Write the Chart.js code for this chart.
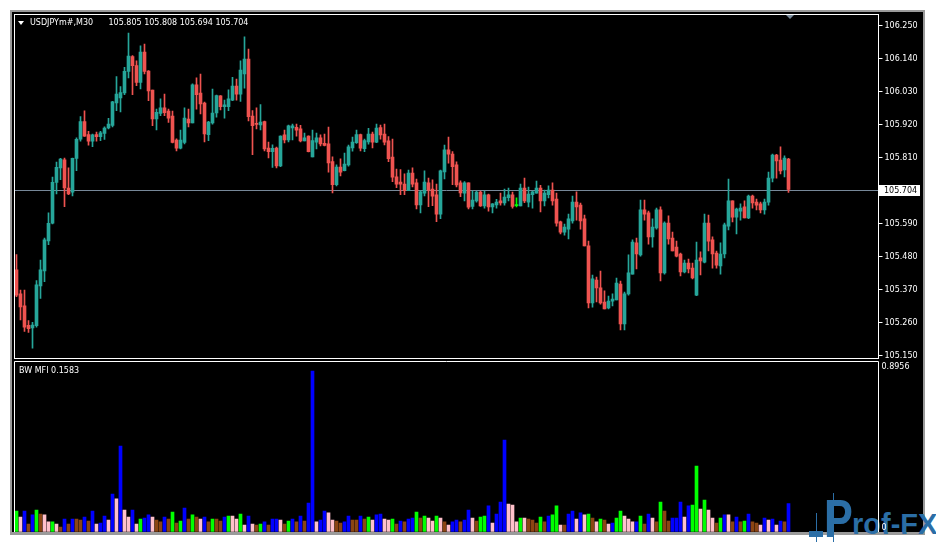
<!DOCTYPE html>
<html lang="en">
<head>
<meta charset="UTF-8">
<title>USDJPYm#,M30 - BW MFI</title>
<style>
    body {
        margin: 0;
        width: 936px;
        height: 543px;
        overflow: hidden;
        position: relative;
        background: #fff;
        font-family: "DejaVu Sans", sans-serif;
    }
    .frame {
        position: absolute;
        left: 10px;
        top: 10px;
        width: 911px;
        height: 520px;
        background: #000;
        border: 2px solid #9a9a9a;
        border-bottom-width: 3px;
    }
    canvas {
        position: absolute;
        left: 0;
    }
    #priceChart { top: 0; }
    #mfiChart { top: 350px; }
    .txt {
        position: absolute;
        color: #fff;
        font-size: 8px;
        line-height: 10px;
        white-space: pre;
    }
    .tri {
        position: absolute;
        left: 18px;
        top: 21px;
        width: 0;
        height: 0;
        border-left: 3px solid transparent;
        border-right: 3px solid transparent;
        border-top: 4px solid #fff;
    }
    .logo {
        position: absolute;
        font-family: "Liberation Sans", Arial, sans-serif;
        font-weight: bold;
        color: #2b6ea6;
        white-space: pre;
    }
    .logo-bar {
        position: absolute;
        background: #2b6ea6;
    }
</style>
</head>
<body>
    <div class="frame"></div>

    <div class="logo-bar" style="left:809px; top:531px; width:14px; height:6px;"></div>
    <div class="logo-bar" style="left:816px; top:513px; width:1px; height:29px;"></div>
    <div class="logo-bar" style="left:833px; top:493px; width:1px; height:49px;"></div>
    <div class="logo" style="left:824px; top:487px; font-size:54px; transform:scaleX(0.8); transform-origin:left top;">P</div>
    <div class="logo" style="left:852px; top:508px; font-size:29px;">rof-FX</div>

    <canvas id="priceChart" width="936" height="372"></canvas>
    <canvas id="mfiChart" width="936" height="193"></canvas>

    <div class="tri"></div>
    <div class="txt" style="left:30px; top:18px;">USDJPYm#,M30</div>
    <div class="txt" style="left:108.5px; top:18px;">105.805 105.808 105.694 105.704</div>
    <div class="txt" style="left:19px; top:366px;">BW MFI 0.1583</div>

    <script src="https://cdn.jsdelivr.net/npm/chart.js"></script>
    <script>
        // price axis labels (105.700 sits under the bid label)
        const priceTicks = [106.250, 106.140, 106.030, 105.920, 105.810, 105.590, 105.480, 105.370, 105.260, 105.150];
        const mfiTicks = [0, 0.8956];

        const opens = [
            105.436, 105.356, 105.316, 105.251, 105.243, 105.250, 105.383, 105.433, 105.533, 105.592,
            105.728, 105.776, 105.803, 105.709, 105.695, 105.808, 105.872, 105.930, 105.887, 105.865,
            105.887, 105.880, 105.891, 105.909, 105.918, 105.993, 106.009, 106.026, 106.098, 106.147,
            106.117, 106.061, 106.162, 106.099, 106.035, 105.939, 105.958, 105.976, 105.965, 105.949,
            105.869, 105.842, 105.861, 105.939, 105.926, 106.053, 106.025, 105.992, 105.887, 105.926,
            105.959, 106.016, 105.980, 105.980, 106.002, 106.049, 106.022, 106.089, 106.139, 105.949,
            105.923, 105.919, 105.930, 105.842, 105.830, 105.842, 105.783, 105.886, 105.869, 105.909,
            105.911, 105.906, 105.866, 105.882, 105.813, 105.862, 105.876, 105.858, 105.856, 105.797,
            105.720, 105.779, 105.767, 105.786, 105.843, 105.860, 105.887, 105.840, 105.863, 105.889,
            105.862, 105.910, 105.889, 105.866, 105.812, 105.746, 105.729, 105.722, 105.700, 105.759,
            105.726, 105.653, 105.692, 105.726, 105.705, 105.686, 105.622, 105.763, 105.836, 105.822,
            105.786, 105.726, 105.692, 105.726, 105.648, 105.666, 105.695, 105.649, 105.686, 105.646,
            105.653, 105.666, 105.659, 105.677, 105.686, 105.650, 105.649, 105.709, 105.662, 105.687,
            105.692, 105.709, 105.666, 105.687, 105.702, 105.672, 105.596, 105.562, 105.572, 105.599,
            105.662, 105.652, 105.606, 105.516, 105.326, 105.402, 105.376, 105.329, 105.309, 105.332,
            105.336, 105.389, 105.256, 105.356, 105.422, 105.526, 105.486, 105.636, 105.626, 105.546,
            105.576, 105.636, 105.426, 105.592, 105.542, 105.512, 105.489, 105.429, 105.459, 105.442,
            105.352, 105.476, 105.462, 105.592, 105.536, 105.492, 105.449, 105.489, 105.582, 105.666,
            105.612, 105.632, 105.646, 105.609, 105.682, 105.662, 105.656, 105.636, 105.662, 105.742,
            105.819, 105.802, 105.769, 105.805
        ];
        const highs = [
            105.487, 105.369, 105.369, 105.267, 105.261, 105.400, 105.469, 105.542, 105.626, 105.745,
            105.795, 105.808, 105.809, 105.776, 105.809, 105.876, 105.947, 105.966, 105.898, 105.889,
            105.895, 105.898, 105.913, 105.941, 105.998, 106.080, 106.047, 106.111, 106.225, 106.150,
            106.133, 106.183, 106.189, 106.100, 106.035, 105.972, 106.006, 106.022, 105.972, 105.965,
            105.873, 105.902, 105.976, 105.972, 106.056, 106.076, 106.089, 105.995, 105.931, 106.039,
            106.019, 106.017, 106.002, 106.036, 106.078, 106.072, 106.133, 106.213, 106.172, 105.967,
            105.976, 105.987, 105.932, 105.862, 105.853, 105.845, 105.883, 105.902, 105.919, 105.922,
            105.922, 105.918, 105.892, 105.883, 105.902, 105.892, 105.886, 105.889, 105.912, 105.813,
            105.786, 105.806, 105.825, 105.852, 105.879, 105.902, 105.889, 105.872, 105.908, 105.895,
            105.922, 105.919, 105.922, 105.880, 105.872, 105.772, 105.770, 105.756, 105.769, 105.776,
            105.739, 105.700, 105.766, 105.742, 105.736, 105.722, 105.769, 105.852, 105.879, 105.830,
            105.796, 105.733, 105.730, 105.726, 105.699, 105.699, 105.699, 105.699, 105.689, 105.657,
            105.671, 105.692, 105.705, 105.709, 105.695, 105.676, 105.722, 105.742, 105.712, 105.699,
            105.732, 105.718, 105.702, 105.716, 105.726, 105.692, 105.599, 105.589, 105.622, 105.682,
            105.696, 105.659, 105.619, 105.532, 105.419, 105.412, 105.432, 105.366, 105.349, 105.356,
            105.409, 105.399, 105.362, 105.486, 105.536, 105.542, 105.669, 105.669, 105.632, 105.606,
            105.642, 105.646, 105.596, 105.616, 105.562, 105.532, 105.492, 105.469, 105.472, 105.459,
            105.529, 105.496, 105.622, 105.619, 105.546, 105.499, 105.526, 105.592, 105.739, 105.666,
            105.642, 105.656, 105.666, 105.685, 105.685, 105.672, 105.662, 105.672, 105.762, 105.822,
            105.821, 105.846, 105.816, 105.808
        ];
        const lows = [
            105.347, 105.269, 105.231, 105.228, 105.175, 105.245, 105.341, 105.397, 105.520, 105.589,
            105.689, 105.737, 105.647, 105.687, 105.683, 105.767, 105.865, 105.881, 105.852, 105.847,
            105.865, 105.867, 105.871, 105.906, 105.913, 105.967, 105.963, 106.020, 106.076, 106.020,
            106.050, 106.039, 106.089, 106.000, 105.917, 105.903, 105.950, 105.950, 105.928, 105.859,
            105.833, 105.839, 105.856, 105.913, 105.926, 105.972, 105.956, 105.863, 105.867, 105.922,
            105.945, 105.969, 105.942, 105.967, 106.000, 106.002, 105.998, 106.042, 105.933, 105.820,
            105.906, 105.903, 105.833, 105.809, 105.778, 105.776, 105.780, 105.859, 105.863, 105.869,
            105.882, 105.863, 105.866, 105.829, 105.813, 105.839, 105.849, 105.849, 105.762, 105.693,
            105.716, 105.749, 105.766, 105.782, 105.832, 105.858, 105.833, 105.830, 105.855, 105.843,
            105.860, 105.872, 105.853, 105.797, 105.730, 105.710, 105.687, 105.687, 105.700, 105.713,
            105.639, 105.626, 105.683, 105.647, 105.650, 105.597, 105.607, 105.739, 105.792, 105.720,
            105.713, 105.680, 105.666, 105.639, 105.639, 105.662, 105.648, 105.642, 105.632, 105.626,
            105.642, 105.652, 105.652, 105.666, 105.642, 105.646, 105.649, 105.660, 105.646, 105.642,
            105.692, 105.629, 105.649, 105.676, 105.652, 105.582, 105.556, 105.552, 105.539, 105.592,
            105.602, 105.572, 105.516, 105.309, 105.312, 105.329, 105.322, 105.306, 105.306, 105.316,
            105.336, 105.236, 105.236, 105.352, 105.422, 105.439, 105.482, 105.602, 105.522, 105.512,
            105.572, 105.399, 105.422, 105.522, 105.499, 105.479, 105.416, 105.426, 105.426, 105.406,
            105.350, 105.419, 105.459, 105.499, 105.442, 105.442, 105.422, 105.476, 105.569, 105.596,
            105.556, 105.602, 105.609, 105.607, 105.642, 105.636, 105.626, 105.622, 105.652, 105.729,
            105.742, 105.756, 105.746, 105.694
        ];
        const closes = [
            105.352, 105.313, 105.245, 105.240, 105.252, 105.386, 105.436, 105.536, 105.591, 105.728,
            105.778, 105.805, 105.709, 105.689, 105.808, 105.871, 105.930, 105.882, 105.865, 105.886,
            105.880, 105.893, 105.909, 105.922, 105.996, 106.022, 106.027, 106.098, 106.149, 106.117,
            106.061, 106.162, 106.098, 106.033, 105.939, 105.961, 105.976, 105.960, 105.942, 105.861,
            105.842, 105.869, 105.942, 105.926, 106.053, 106.020, 105.989, 105.889, 105.929, 105.959,
            106.017, 105.980, 105.986, 106.006, 106.049, 106.022, 106.102, 106.139, 105.947, 105.917,
            105.921, 105.929, 105.839, 105.830, 105.841, 105.783, 105.882, 105.869, 105.916, 105.916,
            105.902, 105.866, 105.876, 105.830, 105.867, 105.876, 105.856, 105.851, 105.793, 105.720,
            105.779, 105.762, 105.789, 105.846, 105.862, 105.887, 105.842, 105.867, 105.889, 105.862,
            105.909, 105.886, 105.862, 105.807, 105.745, 105.722, 105.722, 105.700, 105.759, 105.722,
            105.653, 105.696, 105.729, 105.702, 105.682, 105.622, 105.766, 105.836, 105.822, 105.780,
            105.719, 105.693, 105.726, 105.645, 105.669, 105.695, 105.649, 105.686, 105.646, 105.656,
            105.662, 105.659, 105.679, 105.686, 105.648, 105.650, 105.709, 105.666, 105.689, 105.696,
            105.709, 105.666, 105.692, 105.702, 105.666, 105.592, 105.562, 105.579, 105.606, 105.662,
            105.646, 105.599, 105.516, 105.326, 105.406, 105.376, 105.326, 105.306, 105.332, 105.339,
            105.392, 105.256, 105.356, 105.426, 105.529, 105.489, 105.636, 105.622, 105.546, 105.579,
            105.636, 105.426, 105.592, 105.539, 105.499, 105.482, 105.429, 105.459, 105.439, 105.409,
            105.469, 105.466, 105.592, 105.532, 105.489, 105.452, 105.489, 105.586, 105.666, 105.612,
            105.639, 105.642, 105.609, 105.682, 105.659, 105.652, 105.636, 105.662, 105.742, 105.819,
            105.799, 105.766, 105.809, 105.704
        ];

        const mfiValues = [
            0.117, 0.083, 0.117, 0.044, 0.095, 0.122, 0.100, 0.095, 0.056, 0.056,
            0.044, 0.028, 0.072, 0.044, 0.072, 0.072, 0.067, 0.083, 0.061, 0.117,
            0.044, 0.050, 0.089, 0.067, 0.211, 0.184, 0.478, 0.122, 0.083, 0.122,
            0.044, 0.072, 0.078, 0.095, 0.083, 0.067, 0.056, 0.083, 0.072, 0.111,
            0.050, 0.061, 0.133, 0.072, 0.095, 0.083, 0.072, 0.083, 0.056, 0.072,
            0.072, 0.061, 0.083, 0.089, 0.089, 0.072, 0.100, 0.039, 0.089, 0.044,
            0.039, 0.044, 0.056, 0.039, 0.072, 0.072, 0.067, 0.044, 0.061, 0.072,
            0.056, 0.089, 0.061, 0.161, 0.8956, 0.056, 0.067, 0.117, 0.106, 0.067,
            0.061, 0.050, 0.056, 0.089, 0.067, 0.067, 0.089, 0.072, 0.083, 0.067,
            0.095, 0.100, 0.072, 0.067, 0.072, 0.044, 0.061, 0.056, 0.072, 0.078,
            0.111, 0.078, 0.089, 0.078, 0.061, 0.089, 0.078, 0.056, 0.039, 0.056,
            0.067, 0.056, 0.067, 0.122, 0.078, 0.061, 0.083, 0.089, 0.145, 0.050,
            0.100, 0.167, 0.512, 0.156, 0.150, 0.056, 0.078, 0.078, 0.072, 0.067,
            0.050, 0.083, 0.056, 0.089, 0.095, 0.145, 0.039, 0.039, 0.100, 0.117,
            0.072, 0.106, 0.095, 0.100, 0.078, 0.056, 0.072, 0.067, 0.044, 0.050,
            0.078, 0.117, 0.089, 0.072, 0.056, 0.056, 0.089, 0.044, 0.100, 0.078,
            0.056, 0.167, 0.117, 0.061, 0.078, 0.078, 0.167, 0.083, 0.145, 0.150,
            0.367, 0.128, 0.178, 0.122, 0.078, 0.050, 0.078, 0.095, 0.095, 0.056,
            0.083, 0.056, 0.061, 0.100, 0.056, 0.050, 0.039, 0.078, 0.067, 0.072,
            0.039, 0.061, 0.056, 0.1583
        ];
        // G = green (MFI up, vol up), K = fade, B = fake, P = squat
        const mfiStates = (
            'GPBKBGKPPG' + 'PKBKBKKBKB' + 'PBBPBPBPPB' + 'PGBBPKKBKG' + 'KGBKGKPBKG' +
            'KKBGPPGPBP' + 'KGBKBBPKGB' + 'KBKBBPBBPP' + 'KKBBKKBKGP' + 'BBPPGKBKBB' +
            'GKGPPGPKPB' + 'BKBBPKGGBP' + 'BBBPPPGPKK' + 'KGKBGGPKBB' + 'PBPGKPGKPB' +
            'GGPPPBGKBP' + 'KGKKBBBPBG' + 'GPGPPKGBPK' + 'BKGBKKPBPB' + 'PBKB'
        ).split('');

        const UP = '#26a69a';
        const DOWN = '#ef5350';
        const DOJI = '#00ff00';
        const BID = '#778899';
        const MFI_COLORS = { G: '#00ff00', K: '#8b4513', B: '#0000ff', P: '#ffc0cb' };
        const FONT = { family: 'DejaVu Sans', size: 8 };
        const SHIFT = 22; // empty slots right of the last bar (chart shift)

        const labels = Array.from({ length: opens.length + SHIFT }, (_, i) => i);
        const candleColors = opens.map((o, i) => closes[i] > o ? UP : (closes[i] < o ? DOWN : DOJI));

        const mainDecor = {
            id: 'mainDecor',
            beforeDatasetsDraw(chart) {
                const { ctx, chartArea: a, scales: { y } } = chart;
                const yb = Math.round(y.getPixelForValue(closes[closes.length - 1])) + 0.5;
                ctx.save();
                ctx.strokeStyle = BID;
                ctx.lineWidth = 1;
                ctx.beginPath();
                ctx.moveTo(a.left, yb);
                ctx.lineTo(a.right, yb);
                ctx.stroke();
                ctx.restore();
            },
            afterDraw(chart) {
                const { ctx, chartArea: a, scales: { x, y } } = chart;
                ctx.save();
                ctx.strokeStyle = '#fff';
                ctx.lineWidth = 1;
                ctx.strokeRect(14.5, 14.5, Math.round(a.right) - 15, Math.round(a.bottom) - 15);

                // bid label on the price axis
                const last = closes[closes.length - 1];
                const yb = Math.round(y.getPixelForValue(last));
                ctx.fillStyle = '#fff';
                ctx.fillRect(879, yb - 5, 41, 11);
                ctx.fillStyle = '#000';
                ctx.font = '8px "DejaVu Sans"';
                ctx.textBaseline = 'middle';
                ctx.fillText(last.toFixed(3), 884, yb + 0.5);

                // chart shift marker
                const xs = x.getPixelForValue(opens.length - 1) + 1.5;
                ctx.fillStyle = BID;
                ctx.beginPath();
                ctx.moveTo(xs - 4, 15);
                ctx.lineTo(xs + 4, 15);
                ctx.lineTo(xs, 19);
                ctx.closePath();
                ctx.fill();
                ctx.restore();
            }
        };

        const mfiDecor = {
            id: 'mfiDecor',
            afterDraw(chart) {
                const { ctx, chartArea: a } = chart;
                const top = Math.round(a.top) - 0.5;
                ctx.save();
                ctx.strokeStyle = '#fff';
                ctx.lineWidth = 1;
                ctx.beginPath();
                ctx.moveTo(14.5, a.bottom);
                ctx.lineTo(14.5, top);
                ctx.lineTo(Math.round(a.right) - 0.5, top);
                ctx.lineTo(Math.round(a.right) - 0.5, a.bottom);
                ctx.stroke();
                ctx.restore();
            }
        };

        new Chart(document.getElementById('priceChart'), {
            type: 'bar',
            data: {
                labels: labels,
                datasets: [
                    {
                        data: opens.map((o, i) => [o, closes[i]]),
                        backgroundColor: candleColors,
                        barThickness: 3,
                        minBarLength: 1,
                        grouped: false
                    },
                    {
                        data: lows.map((l, i) => [l, highs[i]]),
                        backgroundColor: candleColors,
                        barThickness: 1,
                        grouped: false
                    }
                ]
            },
            options: {
                responsive: false,
                animation: false,
                devicePixelRatio: 1,
                layout: { padding: { left: 14.5, right: 12, top: 14, bottom: 13 } },
                plugins: { legend: { display: false }, tooltip: { enabled: false } },
                scales: {
                    x: { display: false },
                    y: {
                        position: 'right',
                        min: 105.139,
                        max: 106.289,
                        afterFit: s => { s.width = 45.5; },
                        afterBuildTicks: s => { s.ticks = priceTicks.map(v => ({ value: v })); },
                        ticks: { color: '#fff', font: FONT, padding: 2, callback: v => v.toFixed(3) },
                        grid: { drawOnChartArea: false, drawTicks: true, tickLength: 4, color: '#fff' },
                        border: { display: false }
                    }
                }
            },
            plugins: [mainDecor]
        });

        new Chart(document.getElementById('mfiChart'), {
            type: 'bar',
            data: {
                labels: labels,
                datasets: [{
                    data: mfiValues,
                    backgroundColor: mfiStates.map(s => MFI_COLORS[s]),
                    barThickness: 3
                }]
            },
            options: {
                responsive: false,
                animation: false,
                devicePixelRatio: 1,
                layout: { padding: { left: 14.5, right: 12, top: 12, bottom: 11 } },
                plugins: { legend: { display: false }, tooltip: { enabled: false } },
                scales: {
                    x: { display: false },
                    y: {
                        position: 'right',
                        min: 0,
                        max: 0.9457,
                        afterFit: s => { s.width = 45.5; },
                        afterBuildTicks: s => { s.ticks = mfiTicks.map(v => ({ value: v })); },
                        ticks: { color: '#fff', font: FONT, padding: 3, labelOffset: -4, callback: v => v === 0 ? '0' : v.toFixed(4) },
                        grid: { drawOnChartArea: false, drawTicks: false },
                        border: { display: false }
                    }
                }
            },
            plugins: [mfiDecor]
        });
    </script>
</body>
</html>
